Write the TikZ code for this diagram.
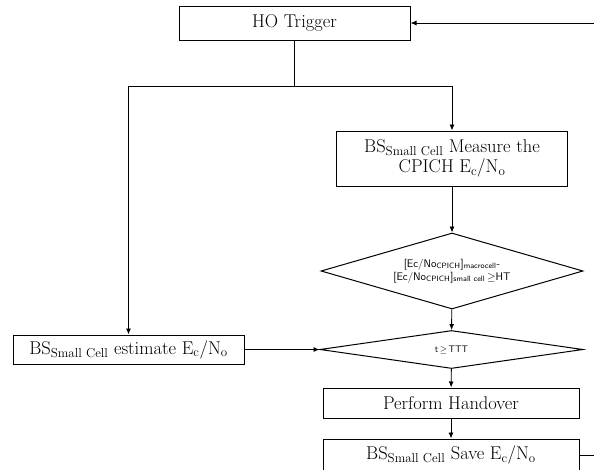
\documentclass[tikz,border=0pt]{standalone}
\usepackage{amsmath}
\usepackage{amssymb}
\usetikzlibrary{shapes.geometric,arrows.meta}

\tikzset{
	box/.style={shape=rectangle,draw=black,line width=1pt,inner sep=0pt,align=center,
		font=\fontsize{18.5}{20}\selectfont},
	test/.style={shape=diamond,draw=black,line width=1pt,inner sep=0pt,align=center,
		font=\sffamily\fontsize{11}{13}\selectfont},
	flow/.style={line width=0.9pt,-{Latex[length=6pt,width=5pt]}}
}

\begin{document}
\begin{tikzpicture}[x=1pt,y=-1pt]
	\useasboundingbox (0,0) rectangle (594,469);
	\clip (0,0) rectangle (594,469);

	\node[box,minimum width=231pt,minimum height=34pt] (trigger) at (294.5, 23) {HO Trigger};
	\node[box,minimum width=231pt,minimum height=55pt] (measure) at (452, 158.5)
		{BS\textsubscript{Small Cell} Measure the\\CPICH E\textsubscript{c}/N\textsubscript{o}};
	\node[test,minimum width=262pt,minimum height=76pt,aspect=3.45] (hyst) at (452, 271)
		{{[}Ec/No\textsubscript{CPICH}{]}\textsubscript{macrocell}-\\
		 {[}Ec/No\textsubscript{CPICH}{]}\textsubscript{small cell}\,$\geq$HT};
	\node[box,minimum width=231pt,minimum height=29pt] (estimate) at (128.5, 349.5)
		{BS\textsubscript{Small Cell} estimate E\textsubscript{c}/N\textsubscript{o}};
	\node[test,minimum width=263pt,minimum height=38pt,aspect=6.9,
		font=\sffamily\fontsize{9.5}{11}\selectfont] (ttt) at (451.5, 349.5)
		{t\,$\geq$\,TTT};
	\node[box,minimum width=256pt,minimum height=30pt] (handover) at (451, 403) {Perform Handover};
	\node[box,minimum width=256pt,minimum height=32pt] (save) at (451, 455)
		{BS\textsubscript{Small Cell} Save E\textsubscript{c}/N\textsubscript{o}};

	\coordinate (split) at (294.5, 86);
	\coordinate (back) at (610, 455);

	\path[line width=0.9pt] (trigger) edge (split);
	\draw[flow] (split) -| (measure.north);
	\draw[flow] (split) -| (estimate.north);
	\draw[flow] (measure) -- (hyst);
	\draw[flow] (hyst) -- (ttt);
	\draw[flow] (estimate) -- (ttt);
	\draw[flow] (ttt) -- (handover);
	\draw[flow] (handover) -- (save);
	\draw[flow] (save) -- (back) |- (trigger);
\end{tikzpicture}
\end{document}
